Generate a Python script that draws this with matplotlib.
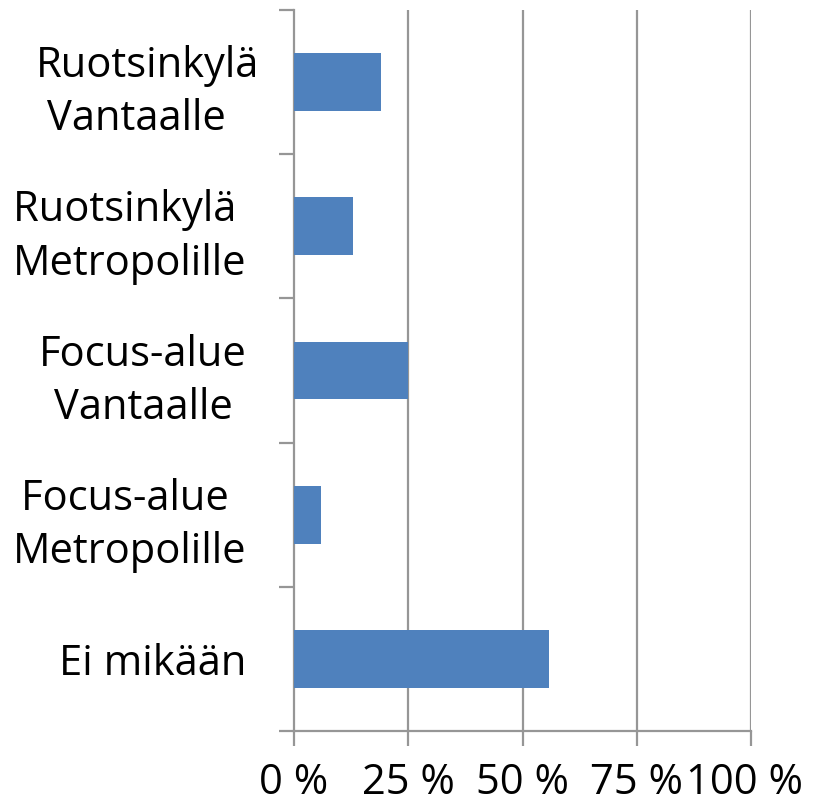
import matplotlib
matplotlib.use("Agg")
import matplotlib.pyplot as plt
from matplotlib.transforms import ScaledTranslation

categories = ["Ruotsinkylä\nVantaalle  ", "Ruotsinkylä \nMetropolille",
              "Focus-alue\nVantaalle", "Focus-alue \nMetropolille", "Ei mikään"]
values = [19.0, 12.9, 25.0, 5.9, 55.8]
xticks = [0, 25, 50, 75, 100]
xticklabels = ["0 %", "25 %", "50 %", "75 %", "100 %"]

plt.rcParams['font.family'] = ['Open Sans', 'DejaVu Sans']

fig = plt.figure(figsize=(8.13, 8.11), dpi=100)
ax = fig.add_axes([294/813, 1-731/811, (751-294)/813, (731-10)/811])

n = len(categories)
ypos = list(range(n))
ax.barh(ypos, values, height=0.4, color="#4F81BD", zorder=3)
ax.set_ylim(n - 0.5, -0.5)
ax.set_xlim(0, 100)

grid_c = "#969696"
for x in xticks[1:]:
    ax.axvline(x, color=grid_c, lw=1.6, zorder=1)

for s in ["top", "right"]:
    ax.spines[s].set_visible(False)
for s in ["left", "bottom"]:
    ax.spines[s].set_color(grid_c)
    ax.spines[s].set_linewidth(1.6)

ax.set_xticks(xticks)
ax.set_xticklabels(xticklabels, fontsize=30)
ax.tick_params(axis='x', length=11, width=1.6, color=grid_c, pad=11)
# keep the last label inside the figure, as in the reference
last = ax.get_xticklabels()[-1]
last.set_transform(last.get_transform() + ScaledTranslation(-6/100, 0, fig.dpi_scale_trans))

ax.set_yticks([i - 0.5 for i in range(n + 1)])
ax.set_yticklabels([])
ax.tick_params(axis='y', length=11, width=1.6, color=grid_c)
ax.set_yticks(ypos, minor=True)
ax.set_yticklabels(categories, minor=True, fontsize=30,
                   multialignment='center', linespacing=1.35)
ax.tick_params(axis='y', which='minor', length=0, pad=34)

# first label sits slightly further right in the reference
lbl = ax.get_yticklabels(minor=True)[0]
lbl.set_transform(lbl.get_transform() + ScaledTranslation(12/100, 0, fig.dpi_scale_trans))

fig.savefig("out.png", dpi=100)
